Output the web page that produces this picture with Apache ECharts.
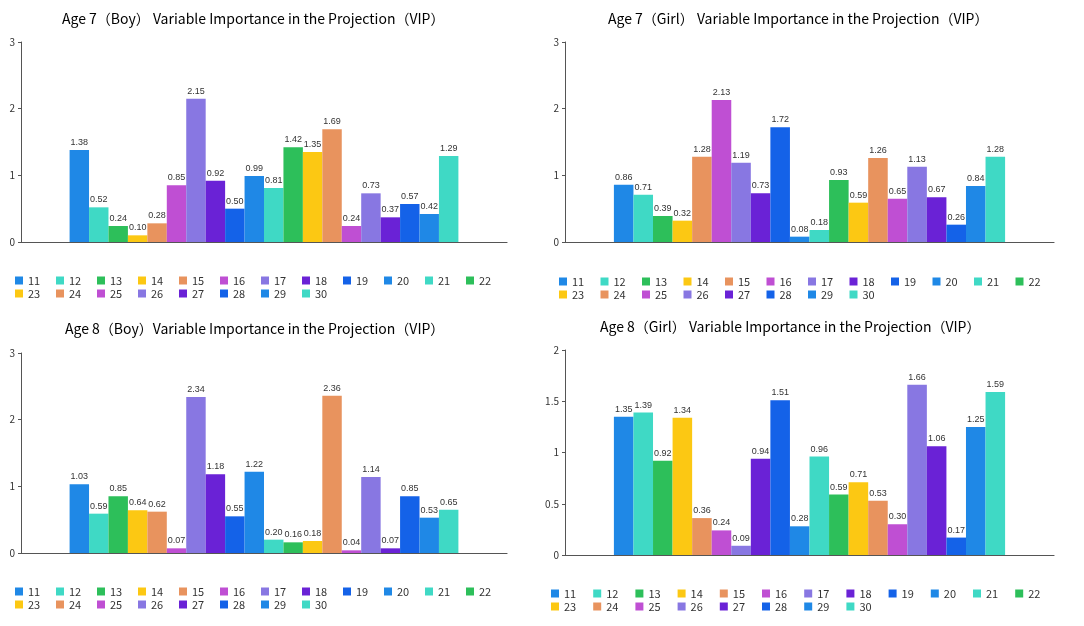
<!DOCTYPE html>
<html>
<head>
<meta charset="utf-8">
<script src="https://cdn.jsdelivr.net/npm/echarts@6/dist/echarts.min.js"></script>
<style>
  html, body { margin: 0; padding: 0; background: #fff; }
  #main { width: 1084px; height: 626px; }
</style>
</head>
<body>
<div id="main"></div>
<script>
// variable codes 11..30
var varNames = ['11', '12', '13', '14', '15', '16', '17', '18', '19', '20',
                '21', '22', '23', '24', '25', '26', '27', '28', '29', '30'];

var vipBoy7 = [1.38, 0.52, 0.24, 0.10, 0.28, 0.85, 2.15, 0.92, 0.50, 0.99,
               0.81, 1.42, 1.35, 1.69, 0.24, 0.73, 0.37, 0.57, 0.42, 1.29];
var vipGirl7 = [0.86, 0.71, 0.39, 0.32, 1.28, 2.13, 1.19, 0.73, 1.72, 0.08,
                0.18, 0.93, 0.59, 1.26, 0.65, 1.13, 0.67, 0.26, 0.84, 1.28];
var vipBoy8 = [1.03, 0.59, 0.85, 0.64, 0.62, 0.07, 2.34, 1.18, 0.55, 1.22,
               0.20, 0.16, 0.18, 2.36, 0.04, 1.14, 0.07, 0.85, 0.53, 0.65];
var vipGirl8 = [1.35, 1.39, 0.92, 1.34, 0.36, 0.24, 0.09, 0.94, 1.51, 0.28,
                0.96, 0.59, 0.71, 0.53, 0.30, 1.66, 1.06, 0.17, 1.25, 1.59];

var titles = [
    'Age 7（Boy） Variable Importance in the Projection（VIP）',
    'Age 7（Girl） Variable Importance in the Projection（VIP）',
    'Age 8（Boy）Variable Importance in the Projection（VIP）',
    'Age 8（Girl） Variable Importance in the Projection（VIP）'
];
var yMax = [3, 3, 3, 2];
var yStep = [1, 1, 1, 0.5];

var colorCycle = ['#1f88e6', '#3fd9c5', '#2dbf5a', '#fcc813', '#e8935e',
                  '#bf4fd3', '#8877e2', '#6a22d6', '#1462e8'];

var panels = [
    { values: vipBoy7,  grid: { left: 21,  top: 42,  width: 486, height: 200 }, title: { left: 62,  top: 12 },  legend: { left: 15,  top: 275, gap: 26 } },
    { values: vipGirl7, grid: { left: 565, top: 42,  width: 489, height: 200 }, title: { left: 608, top: 12 },  legend: { left: 559, top: 276, gap: 26.5 } },
    { values: vipBoy8,  grid: { left: 21,  top: 353, width: 486, height: 200 }, title: { left: 65,  top: 322 }, legend: { left: 15,  top: 586, gap: 26 } },
    { values: vipGirl8, grid: { left: 565, top: 350, width: 489, height: 205 }, title: { left: 600, top: 320 }, legend: { left: 551, top: 588, gap: 27.2 } }
];

var font = '"Noto Sans CJK SC", "Noto Sans", sans-serif';
var opts = { animation: false, title: [], grid: [], xAxis: [], yAxis: [], legend: [], series: [] };

for (var p = 0; p < panels.length; p++) {
    var pn = panels[p];
    opts.title.push({
        text: titles[p], left: pn.title.left, top: pn.title.top, padding: 0,
        textStyle: { fontFamily: font, fontSize: 14, fontWeight: 'normal', color: '#000' }
    });
    opts.grid.push(pn.grid);
    opts.xAxis.push({
        type: 'category', gridIndex: p, data: [''],
        axisLine: { lineStyle: { color: '#555', width: 1.2 } },
        axisTick: { show: false }, axisLabel: { show: false }
    });
    opts.yAxis.push({
        type: 'value', gridIndex: p, min: 0, max: yMax[p], interval: yStep[p],
        splitLine: { show: false },
        axisLine: { show: true, lineStyle: { color: '#555' } },
        axisTick: { show: true, length: 3, lineStyle: { color: '#555' } },
        axisLabel: { color: '#333', fontSize: 10, margin: 6, fontFamily: font }
    });
    opts.legend.push({
        left: pn.legend.left, top: pn.legend.top, width: 520, padding: 0,
        itemWidth: 8, itemHeight: 8, itemGap: 2, icon: 'rect',
        textStyle: { fontSize: 11, width: pn.legend.gap, lineHeight: 8, color: '#333', fontFamily: font },
        data: varNames
    });
    for (var i = 0; i < varNames.length; i++) {
        opts.series.push({
            type: 'bar', name: varNames[i], xAxisIndex: p, yAxisIndex: p,
            data: [pn.values[i]],
            barGap: 0, barCategoryGap: '20%',
            itemStyle: { color: colorCycle[i % colorCycle.length] },
            label: {
                show: true, position: 'top', distance: 3, fontSize: 9, color: '#333',
                formatter: function (v) { return v.value.toFixed(2); }
            }
        });
    }
}

var chart = echarts.init(document.getElementById('main'));
chart.setOption(opts);
</script>
</body>
</html>
